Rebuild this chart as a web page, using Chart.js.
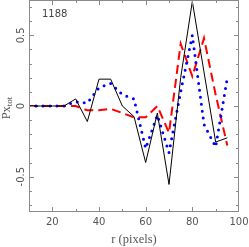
<!DOCTYPE html>
<html><head><meta charset="utf-8">
<script src="https://cdn.jsdelivr.net/npm/chart.js@4/dist/chart.umd.min.js"></script>
<style>html,body{margin:0;padding:0;background:#fff;}</style>
</head><body>
<canvas id="c" width="249" height="247"></canvas>
<script>
// ---- data ----
const rValues      = [10,15,20,25,30,35,40,45,50,55,60,65,70,75,80,85,90,95];
const solidSeries  = [0,0,0,0,0.05,-0.11,0.19,0.19,0.0,-0.075,-0.40,-0.05,-0.555,0.2,0.74,0.24,-0.255,-0.225];
const dottedSeries = [0,0,0,0,0.03,0.02,0.13,0.16,0.08,0.05,-0.30,-0.065,-0.33,0.1,0.50,-0.13,-0.29,0.2];
const dashedSeries = [0,0,0,0,0,-0.03,-0.03,-0.02,-0.05,-0.08,-0.08,0.0,-0.19,0.44,0.21,0.48,0.08,-0.28];
const xTickLabels  = [20,40,60,80,100];
const xMinorTicks  = [20,30,40,50,60,70,80,90];
const yTickLabels  = [-0.5,0,0.5];
const yMinorTicks  = [-0.7,-0.6,-0.5,-0.4,-0.3,-0.2,-0.1,0,0.1,0.2,0.3,0.4,0.5,0.6,0.7];
const panelLabel   = '1188';
const xTitle       = 'r (pixels)';
const yTitleMain   = 'Px';
const yTitleSub    = 'tot';

const toPts = arr => rValues.map((r,i)=>({x:r,y:arr[i]}));

const framePlugin = {
  id:'frame',
  afterDraw(chart){
    const {ctx, chartArea:a, scales:{x,y}} = chart;
    ctx.save();
    ctx.strokeStyle='#8a8a8a'; ctx.lineWidth=1;
    ctx.strokeRect(a.left+0.5, a.top+0.5, a.right-a.left-1, a.bottom-a.top-1);
    xMinorTicks.forEach(v=>{
      const px = Math.round(x.getPixelForValue(v))+0.5;
      const len = xTickLabels.includes(v)?5:3;
      ctx.beginPath();
      ctx.moveTo(px,a.bottom); ctx.lineTo(px,a.bottom-len);
      ctx.moveTo(px,a.top); ctx.lineTo(px,a.top+len);
      ctx.stroke();
    });
    yMinorTicks.forEach(v=>{
      const py = Math.round(y.getPixelForValue(v))+0.5;
      const len = yTickLabels.includes(v)?5:3;
      ctx.beginPath();
      ctx.moveTo(a.left,py); ctx.lineTo(a.left+len,py);
      ctx.moveTo(a.right,py); ctx.lineTo(a.right-len,py);
      ctx.stroke();
    });
    ctx.fillStyle='#555';
    ctx.font='10px "DejaVu Sans"';
    ctx.textAlign='center'; ctx.textBaseline='middle';
    xTickLabels.forEach(v=>{
      ctx.fillText(String(v), x.getPixelForValue(v), a.bottom+10);
    });
    yTickLabels.forEach(v=>{
      ctx.save();
      ctx.translate(21, y.getPixelForValue(v));
      ctx.rotate(-Math.PI/2);
      ctx.fillText(String(v), 0, 0);
      ctx.restore();
    });
    ctx.font='12.5px "Liberation Serif"';
    ctx.fillText(xTitle, (a.left+a.right)/2, 240);
    ctx.save();
    ctx.translate(7, (a.top+a.bottom)/2+2);
    ctx.rotate(-Math.PI/2);
    ctx.font='12.5px "Liberation Serif"';
    const wMain = ctx.measureText(yTitleMain).width;
    ctx.font='9px "Liberation Serif"';
    const wSub = ctx.measureText(yTitleSub).width;
    const start = -(wMain+wSub)/2;
    ctx.textAlign='left';
    ctx.font='12.5px "Liberation Serif"';
    ctx.fillText(yTitleMain, start, 0);
    ctx.font='9px "Liberation Serif"';
    ctx.fillText(yTitleSub, start+wMain, 3);
    ctx.restore();
    ctx.fillStyle='#444';
    ctx.font='10px "DejaVu Sans"';
    ctx.textAlign='left';
    ctx.fillText(panelLabel, 42, 14);
    ctx.restore();
  }
};

new Chart(document.getElementById('c'), {
  type:'scatter',
  data:{datasets:[
    {data:toPts(solidSeries), showLine:true, borderColor:'#000', borderWidth:1, pointRadius:0, fill:false, tension:0},
    {data:toPts(dottedSeries), showLine:true, borderColor:'#0000ff', borderWidth:3, borderDash:[0,7], borderCapStyle:'round', pointRadius:0, fill:false, tension:0},
    {data:toPts(dashedSeries), showLine:true, borderColor:'#ff0000', borderWidth:2, borderDash:[9,5], pointRadius:0, fill:false, tension:0}
  ]},
  options:{
    responsive:false, animation:false, devicePixelRatio:1,
    layout:{padding:{left:29, right:10, top:0, bottom:35}},
    plugins:{legend:{display:false}, tooltip:{enabled:false}},
    scales:{
      x:{type:'linear', min:10, max:100, display:false},
      y:{type:'linear', min:-0.75, max:0.75, display:false}
    }
  },
  plugins:[framePlugin]
});
</script>
</body></html>
